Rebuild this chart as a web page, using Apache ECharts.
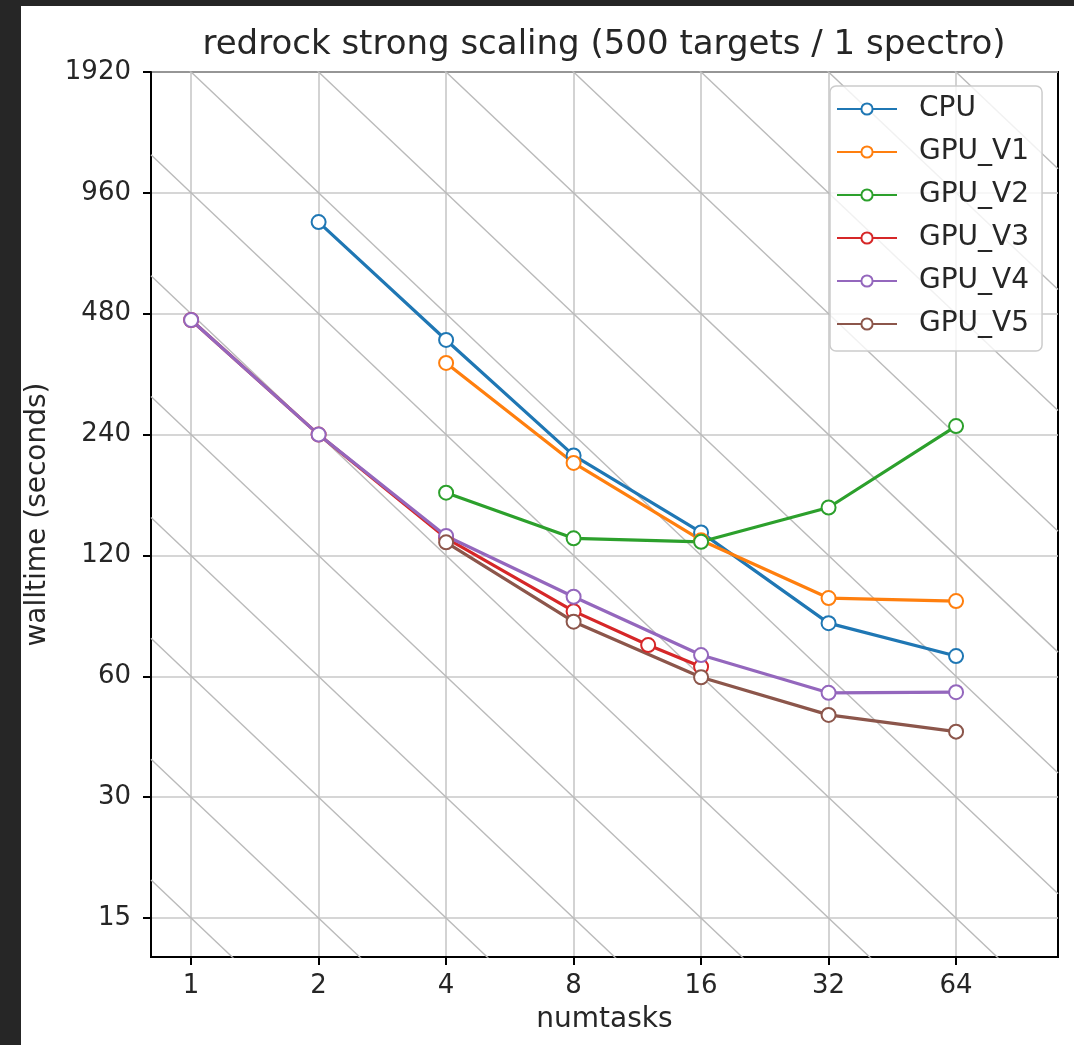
<!DOCTYPE html>
<html>
<head>
<meta charset="utf-8">
<script src="https://cdn.jsdelivr.net/npm/echarts@6/dist/echarts.min.js"></script>
<style>
  html, body { margin: 0; padding: 0; background: #262626; width: 1074px; height: 1045px; overflow: hidden; }
  #chart { position: absolute; left: 21px; top: 6px; width: 1053px; height: 1039px; background: #fff; }
</style>
</head>
<body>
<div id="chart"></div>
<script>
// 数据
const cpuTasks = [2, 4, 8, 16, 32, 64];
const cpuTime = [812, 413, 213, 137, 81.4, 67.4];
const v1Tasks = [4, 8, 16, 32, 64];
const v1Time = [362, 204, 131, 94, 92.4];
const v2Tasks = [4, 8, 16, 32, 64];
const v2Time = [172, 132.4, 129.8, 158, 252];
const v3Tasks = [1, 2, 4, 8, 12, 16];
const v3Time = [463, 240, 132.6, 87.2, 71.8, 63.4];
const v4Tasks = [1, 2, 4, 8, 16, 32, 64];
const v4Time = [463, 240, 134.2, 94.7, 67.8, 54.6, 54.8];
const v5Tasks = [4, 8, 16, 32, 64];
const v5Time = [129.4, 82.1, 59.7, 48.1, 43.7];

const xTicks = [1, 2, 4, 8, 16, 32, 64];
const yTicks = [15, 30, 60, 120, 240, 480, 960, 1920];
// 理想缩放线 (numtasks * walltime = 常数)
const idealConst = [15, 30, 60, 120, 240, 480, 960, 1920, 3840, 7680, 15360, 30720, 61440, 122880];

const xMin = 0.804, xMax = 111.4;
const yMin = 12, yMax = 1920;

const font = 'DejaVu Sans';
const textColor = '#262626';

const seriesDefs = [
  { name: 'CPU', color: '#1f77b4', x: cpuTasks, y: cpuTime },
  { name: 'GPU_V1', color: '#ff7f0e', x: v1Tasks, y: v1Time },
  { name: 'GPU_V2', color: '#2ca02c', x: v2Tasks, y: v2Time },
  { name: 'GPU_V3', color: '#d62728', x: v3Tasks, y: v3Time },
  { name: 'GPU_V4', color: '#9467bd', x: v4Tasks, y: v4Time },
  { name: 'GPU_V5', color: '#8c564b', x: v5Tasks, y: v5Time },
];

const idealSeries = idealConst.map((c) => ({
  type: 'line',
  silent: true,
  symbol: 'none',
  clip: true,
  z: 1,
  lineStyle: { color: '#bababa', width: 1.4 },
  data: [[xMin, c / xMin], [xMax, c / xMax]],
}));

const dataSeries = seriesDefs.map((s) => ({
  type: 'line',
  name: s.name,
  z: 3,
  symbol: 'circle',
  symbolSize: 14,
  lineStyle: { color: s.color, width: 3.2 },
  itemStyle: { color: '#fff', borderColor: s.color, borderWidth: 2 },
  data: s.x.map((v, i) => [v, s.y[i]]),
}));

function axisCommon(ticks, labelMargin) {
  return {
    type: 'log',
    logBase: 2,
    axisLine: { show: true, lineStyle: { color: '#000', width: 2 } },
    axisTick: { show: true, length: 8, customValues: ticks, lineStyle: { color: '#000', width: 2 } },
    axisLabel: {
      customValues: ticks,
      margin: labelMargin,
      fontSize: 26,
      fontFamily: font,
      color: textColor,
      formatter: (v) => String(Math.round(v)),
    },
    splitLine: { show: true, lineStyle: { color: '#c8c8c8', width: 1.6 } },
    nameLocation: 'middle',
    nameTextStyle: { fontSize: 28, fontFamily: font, color: textColor },
  };
}

const chart = echarts.init(document.getElementById('chart'));
chart.setOption({
  animation: false,
  title: {
    text: 'redrock strong scaling (500 targets / 1 spectro)',
    left: 583,
    top: 22,
    padding: 0,
    textAlign: 'center',
    textStyle: { fontSize: 34, fontWeight: 'normal', fontFamily: font, color: textColor },
  },
  grid: {
    left: 130, top: 66, right: 16, bottom: 88,
    outerBoundsMode: 'none',
    show: true, borderColor: '#000', borderWidth: 2, backgroundColor: 'transparent',
  },
  legend: {
    data: seriesDefs.map((s) => s.name),
    orient: 'vertical',
    left: 809,
    top: 80,
    itemWidth: 60,
    itemHeight: 14,
    itemGap: 15,
    padding: [9, 13, 13, 6],
    backgroundColor: 'rgba(255,255,255,0.8)',
    borderColor: '#cccccc',
    borderWidth: 1.5,
    borderRadius: 6,
    textStyle: { fontSize: 28, fontFamily: font, color: textColor, lineHeight: 28, padding: [0, 0, 0, 17] },
  },
  xAxis: Object.assign(axisCommon(xTicks, 16), {
    min: xMin, max: xMax,
    name: 'numtasks', nameGap: 49,
  }),
  yAxis: Object.assign(axisCommon(yTicks, 20), {
    min: yMin, max: yMax,
    name: 'walltime (seconds)', nameGap: 99,
  }),
  series: idealSeries.concat(dataSeries),
});
</script>
</body>
</html>
